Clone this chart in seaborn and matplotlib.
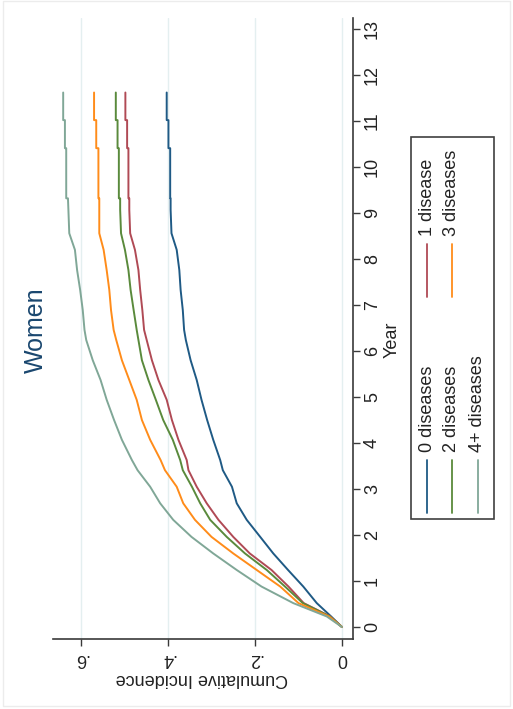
import matplotlib
matplotlib.use("Agg")
import matplotlib.pyplot as plt
import numpy as np
import pandas as pd
import seaborn as sns
from matplotlib.patches import Rectangle
from matplotlib.lines import Line2D

sns.set_theme(style="white")
plt.rcParams["font.family"] = ["Liberation Sans", "DejaVu Sans"]

# ---------------- data ----------------
years = [0, 0.23, 0.52, 0.88, 1.24, 1.60, 1.96, 2.33, 2.69, 3.05, 3.41, 3.63,
         4.07, 4.50, 4.94, 5.37, 5.80, 6.24, 6.46, 6.89, 7.33, 7.76, 8.20, 8.56,
         9.07, 9.32, 9.32, 10.41, 10.41, 11.02, 11.02, 11.62]

inc_0 = [0, 0.025, 0.058, 0.089, 0.124, 0.158, 0.188, 0.219, 0.242, 0.253, 0.274, 0.280,
         0.296, 0.310, 0.323, 0.334, 0.348, 0.359, 0.363, 0.366, 0.371, 0.374, 0.380, 0.392,
         0.394, 0.394, 0.395, 0.395, 0.399, 0.399, 0.403, 0.403]
inc_1 = [0, 0.027, 0.088, 0.123, 0.162, 0.212, 0.250, 0.284, 0.311, 0.334, 0.353, 0.357,
         0.376, 0.391, 0.403, 0.422, 0.437, 0.449, 0.455, 0.459, 0.464, 0.468, 0.476, 0.487,
         0.489, 0.489, 0.491, 0.491, 0.494, 0.494, 0.498, 0.498]
inc_2 = [0, 0.028, 0.090, 0.131, 0.173, 0.223, 0.265, 0.303, 0.326, 0.345, 0.366, 0.372,
         0.389, 0.411, 0.428, 0.445, 0.460, 0.468, 0.472, 0.479, 0.486, 0.491, 0.499, 0.508,
         0.510, 0.510, 0.513, 0.513, 0.516, 0.516, 0.520, 0.520]
inc_3 = [0, 0.030, 0.100, 0.142, 0.196, 0.250, 0.300, 0.338, 0.365, 0.380, 0.407, 0.417,
         0.441, 0.460, 0.472, 0.489, 0.506, 0.519, 0.525, 0.531, 0.535, 0.541, 0.548, 0.558,
         0.558, 0.558, 0.560, 0.560, 0.565, 0.565, 0.570, 0.570]
inc_4 = [0, 0.035, 0.112, 0.185, 0.242, 0.296, 0.346, 0.388, 0.418, 0.441, 0.470, 0.483,
         0.506, 0.524, 0.541, 0.555, 0.573, 0.588, 0.592, 0.596, 0.602, 0.609, 0.614, 0.627,
         0.629, 0.630, 0.634, 0.634, 0.637, 0.637, 0.641, 0.641]

groups = ["0 diseases", "1 disease", "2 diseases", "3 diseases", "4+ diseases"]
colors = ["#1f5a85", "#b04a55", "#5a8a3c", "#ff8c1a", "#80a797"]
year_ticks = list(range(14))
inc_ticks = [0, 0.2, 0.4, 0.6]
inc_labels = ["0", ".2", ".4", ".6"]
title = "Women"
xlab = "Year"
ylab = "Cumulative Incidence"

series = [inc_0, inc_1, inc_2, inc_3, inc_4]
df = pd.concat(
    [pd.DataFrame({"year": years, "incidence": s, "group": g}) for g, s in zip(groups, series)],
    ignore_index=True,
)

# ---------------- layout (rotated chart) ----------------
W, H = 513, 709
fig = plt.figure(figsize=(W / 100, H / 100), dpi=100)


def fx(x):
    return x / W


def fy(y):
    return 1 - y / H


ax = fig.add_axes([fx(53), fy(639), (353 - 53) / W, (639 - 18) / H])
ax.set_facecolor("white")
for v in inc_ticks:
    ax.axvline(v, color="#e4eff0", lw=1, zorder=0)

sns.lineplot(data=df, x="incidence", y="year", hue="group", hue_order=groups,
             palette=colors, sort=False, estimator=None, orient="y",
             legend=False, ax=ax, lw=1.4)

ax.set_xlim(0.6644, -0.0253)
ax.set_ylim(-0.26, 13.24)

for s in ["left", "top"]:
    ax.spines[s].set_visible(False)
for s in ["right", "bottom"]:
    ax.spines[s].set_visible(True)
    ax.spines[s].set_color("#3a3a3a")
    ax.spines[s].set_linewidth(1.2)

ax.yaxis.tick_right()
ax.set_yticks(year_ticks)
ax.set_yticklabels([str(t) for t in year_ticks], rotation=90, va="center", ha="left")
ax.set_xticks(inc_ticks)
ax.set_xticklabels(inc_labels, rotation=180, ha="center", va="top")
ax.tick_params(axis="y", which="major", right=True, left=False, direction="out",
               length=5, width=1, color="#3a3a3a", labelsize=13, pad=3,
               labelcolor="#222222")
ax.tick_params(axis="x", which="major", bottom=True, direction="out",
               length=5, width=1, color="#3a3a3a", labelsize=13, pad=3,
               labelcolor="#222222")
ax.set_xlabel("")
ax.set_ylabel("")

fig.text(fx(392), fy(340), xlab, rotation=90, ha="center", va="center",
         fontsize=13, color="#222222")
fig.text(fx(202), fy(678), ylab, rotation=180, ha="center", va="center",
         fontsize=13, color="#222222")
fig.text(fx(36), fy(330), title, rotation=90, ha="center", va="center",
         fontsize=18, color="#1a476f")

# ---------------- legend (rotated, drawn by hand) ----------------
fig.add_artist(Rectangle((fx(411), fy(519)), (494 - 411) / W, (519 - 137) / H,
                         transform=fig.transFigure, fill=False,
                         ec="#404040", lw=1.2))
row_x = [427, 452, 478]
col_y = [513, 297]
line_len = 53
layout = [(0, 0), (1, 0), (0, 1), (1, 1), (0, 2)]  # (column, row) per group
for g, c, (col, row) in zip(groups, colors, layout):
    x = row_x[row]
    y0 = col_y[col]
    fig.add_artist(Line2D([fx(x), fx(x)], [fy(y0), fy(y0 - line_len)],
                          transform=fig.transFigure, color=c, lw=1.3))
    fig.text(fx(x), fy(y0 - line_len - 8), g, rotation=90, rotation_mode="anchor",
             ha="left", va="center", fontsize=13, color="#222222")

# faint outer frame
fig.add_artist(Rectangle((fx(3), fy(706)), (510 - 3) / W, (706 - 1) / H,
                         transform=fig.transFigure, fill=False,
                         ec="#ececec", lw=1))

fig.savefig("out.png", dpi=100)
